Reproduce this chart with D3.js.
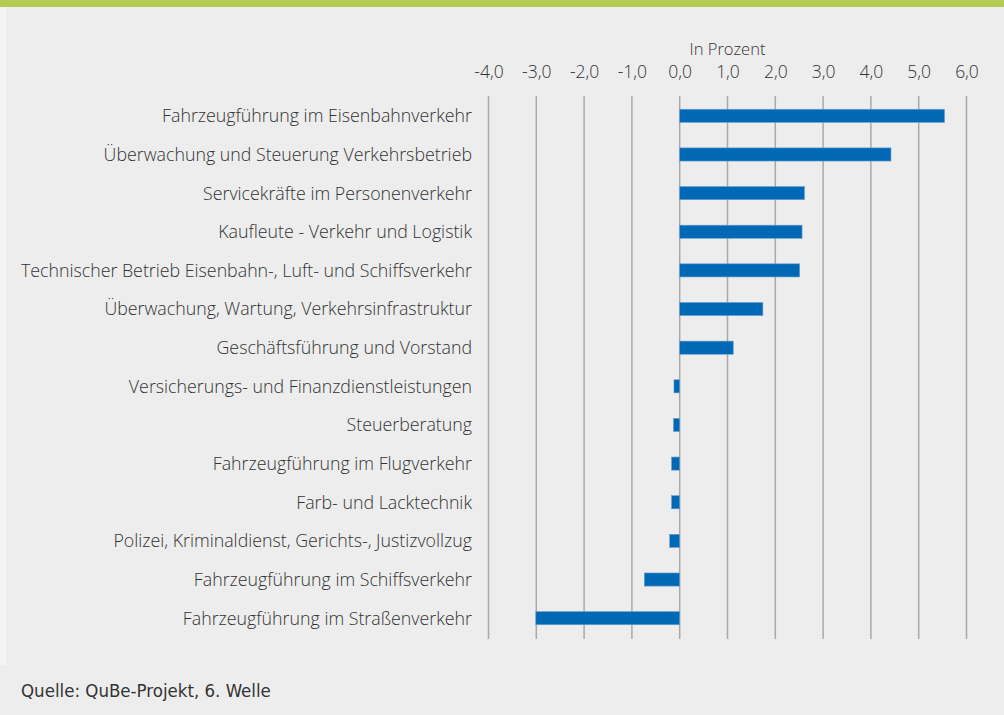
<!DOCTYPE html>
<html>
<head>
<meta charset="utf-8">
<script src="https://cdn.jsdelivr.net/npm/d3@7"></script>
<style>
  html, body { margin: 0; padding: 0; background: #ededed; }
  svg { display: block; }
  text { font-family: "Open Sans", "Noto Sans", sans-serif; fill: #333333; font-weight: 300; }
</style>
</head>
<body>
<svg id="chart" width="1004" height="715"></svg>
<script>
// categories top to bottom
var categories = [
    'Fahrzeugführung im Eisenbahnverkehr',
    'Überwachung und Steuerung Verkehrsbetrieb',
    'Servicekräfte im Personenverkehr',
    'Kaufleute - Verkehr und Logistik',
    'Technischer Betrieb Eisenbahn-, Luft- und Schiffsverkehr',
    'Überwachung, Wartung, Verkehrsinfrastruktur',
    'Geschäftsführung und Vorstand',
    'Versicherungs- und Finanzdienstleistungen',
    'Steuerberatung',
    'Fahrzeugführung im Flugverkehr',
    'Farb- und Lacktechnik',
    'Polizei, Kriminaldienst, Gerichts-, Justizvollzug',
    'Fahrzeugführung im Schiffsverkehr',
    'Fahrzeugführung im Straßenverkehr'
];
var values = [5.54, 4.42, 2.61, 2.56, 2.51, 1.74, 1.12, -0.12, -0.13, -0.17, -0.17, -0.21, -0.74, -3.01];
var ticks = [-4, -3, -2, -1, 0, 1, 2, 3, 4, 5, 6];
var axisTitle = 'In Prozent';
var source = 'Quelle: QuBe-Projekt, 6. Welle';

var svg = d3.select('#chart');

// page frame
svg.append('rect').attr('x', 0).attr('y', 0).attr('width', 1004).attr('height', 715).style('fill', '#ededed');
svg.append('rect').attr('x', 0).attr('y', 0).attr('width', 6).attr('height', 665).style('fill', '#f4f4f4');
svg.append('rect').attr('x', 0).attr('y', 0).attr('width', 1004).attr('height', 7).style('fill', '#b3cb55');

var xScale = d3.scaleLinear()
    .domain([-4, 6])
    .range([488.5, 966.5]);

var yScale = d3.scaleBand()
    .domain(categories)
    .range([96.5, 637.5])
    .paddingInner(0.66)
    .paddingOuter(0.33);

// grid lines
svg.append('g')
    .selectAll('line')
    .data(ticks)
    .enter()
    .append('line')
    .attr('x1', d => xScale(d))
    .attr('x2', d => xScale(d))
    .attr('y1', 96)
    .attr('y2', 639)
    .style('stroke', '#a9a9a9')
    .style('stroke-width', 1.5);

// tick labels on top
const xAxis = d3.axisTop(xScale)
    .tickValues(ticks)
    .tickSize(0)
    .tickPadding(0)
    .tickFormat(d => d3.format('.1f')(d).replace('.', ',').replace('−', '-'));

const axisG = svg.append('g')
    .attr('transform', 'translate(0, 78)')
    .call(xAxis);
axisG.select('.domain').remove();
axisG.selectAll('text')
    .attr('y', 0)
    .attr('dy', 0)
    .style('font-family', '"Open Sans", "Noto Sans", sans-serif')
    .style('font-weight', 300)
    .style('font-size', '17.5px')
    .style('fill', '#333333');

svg.append('text')
    .attr('x', xScale(1))
    .attr('y', 55)
    .style('text-anchor', 'middle')
    .style('font-size', '16.5px')
    .text(axisTitle);

// bars
svg.append('g')
    .selectAll('rect')
    .data(values)
    .enter()
    .append('rect')
    .attr('x', d => xScale(Math.min(0, d)))
    .attr('y', (d, i) => yScale(categories[i]))
    .attr('width', d => Math.abs(xScale(d) - xScale(0)))
    .attr('height', yScale.bandwidth())
    .style('fill', '#0068b4')
    .style('stroke', '#6a9fd0')
    .style('stroke-width', 0.6);

// category labels
svg.append('g')
    .selectAll('text')
    .data(categories)
    .enter()
    .append('text')
    .attr('x', 472)
    .attr('y', d => yScale(d) + yScale.bandwidth() / 2)
    .attr('dy', '0.36em')
    .style('text-anchor', 'end')
    .style('font-size', '17.8px')
    .text(d => d);

// source
svg.append('text')
    .attr('x', 21)
    .attr('y', 697)
    .style('font-family', '"DejaVu Sans", sans-serif')
    .style('font-stretch', 'condensed')
    .style('font-weight', 400)
    .style('font-size', '18.5px')
    .text(source);
</script>
</body>
</html>
